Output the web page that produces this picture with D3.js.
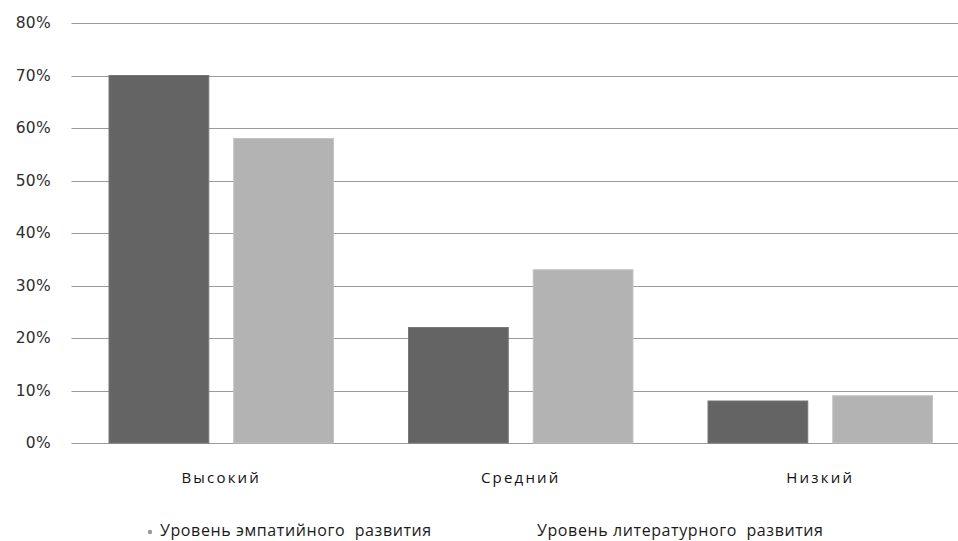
<!DOCTYPE html>
<html>
<head>
<meta charset="utf-8">
<script src="https://cdn.jsdelivr.net/npm/d3@7"></script>
<style>
  html, body { margin: 0; padding: 0; background: #fff; }
  svg { display: block; }
</style>
</head>
<body>
<svg id="chart" width="958" height="541"></svg>
<script>
// Уровни развития по категориям
const categories = ["Высокий", "Средний", "Низкий"];
const seriesNames = ["Уровень эмпатийного  развития", "Уровень литературного  развития"];
const empathyValues = [70, 22, 8];
const literaryValues = [58, 33, 9];
const yTicks = [0, 10, 20, 30, 40, 50, 60, 70, 80];

const seriesColors = ["#646464", "#b3b3b3"];
const seriesStroke = ["#767676", "#c4c4c4"];

const svg = d3.select("#chart");
const margin = { left: 71.5, right: -12, top: 23, bottom: 98 };
const W = 958, H = 541;

const x = d3.scaleBand()
  .domain(categories)
  .range([margin.left, W - margin.right])
  .paddingInner(0)
  .paddingOuter(0);

const xSub = d3.scaleBand()
  .domain([0, 1])
  .range([37.5, x.bandwidth() - 37.5])
  .paddingInner(0.2);

const y = d3.scaleLinear()
  .domain([0, 80])
  .range([H - margin.bottom, margin.top]);

// Горизонтальные линии сетки
svg.append("g")
  .selectAll("line")
  .data(yTicks)
  .join("line")
  .attr("x1", margin.left)
  .attr("x2", W)
  .attr("y1", d => Math.round(y(d)) + 0.5)
  .attr("y2", d => Math.round(y(d)) + 0.5)
  .attr("stroke", "#9a9a9a")
  .attr("stroke-width", 1.2);

// Подписи оси Y
const yAxis = d3.axisLeft(y)
  .tickValues(yTicks)
  .tickFormat(d => d + "%")
  .tickSize(0)
  .tickPadding(0);

const yg = svg.append("g")
  .attr("transform", `translate(51,0)`)
  .call(yAxis);
yg.select(".domain").remove();
yg.selectAll("text")
  .attr("font-family", "'DejaVu Sans', sans-serif")
  .attr("font-size", 15.5)
  .attr("letter-spacing", "0.3px")
  .attr("fill", "#2e2e2e");

// Столбцы
const rows = categories.map((c, i) => ({ cat: c, vals: [empathyValues[i], literaryValues[i]] }));

const groups = svg.append("g")
  .selectAll("g")
  .data(rows)
  .join("g")
  .attr("transform", d => `translate(${x(d.cat)},0)`);

groups.selectAll("rect")
  .data(d => d.vals.map((v, k) => ({ v, k })))
  .join("rect")
  .attr("x", d => xSub(d.k))
  .attr("width", xSub.bandwidth())
  .attr("y", d => y(d.v))
  .attr("height", d => y(0) - y(d.v))
  .attr("fill", d => seriesColors[d.k])
  .attr("stroke", d => seriesStroke[d.k])
  .attr("stroke-width", 1);

// Подписи категорий
const xAxis = d3.axisBottom(x).tickSize(0).tickPadding(0);
const xg = svg.append("g")
  .attr("transform", `translate(0,${y(0) + 29})`)
  .call(xAxis);
xg.select(".domain").remove();
xg.selectAll("text")
  .attr("font-family", "'Open Sans', 'DejaVu Sans', sans-serif")
  .attr("font-size", 15)
  .attr("letter-spacing", "2.2px")
  .attr("fill", "#111");

// Легенда
const legend = svg.append("g")
  .attr("font-family", "'Open Sans', 'DejaVu Sans', sans-serif")
  .attr("font-size", 16)
  .attr("letter-spacing", "0.6px")
  .attr("fill", "#1a1a1a");

legend.append("circle")
  .attr("cx", 150).attr("cy", 532).attr("r", 2.2)
  .attr("fill", "#999");

legend.append("text")
  .attr("x", 160).attr("y", 536)
  .style("white-space", "pre")
  .text(seriesNames[0]);

legend.append("text")
  .attr("x", 537).attr("y", 536)
  .style("white-space", "pre")
  .text(seriesNames[1]);
</script>
</body>
</html>
